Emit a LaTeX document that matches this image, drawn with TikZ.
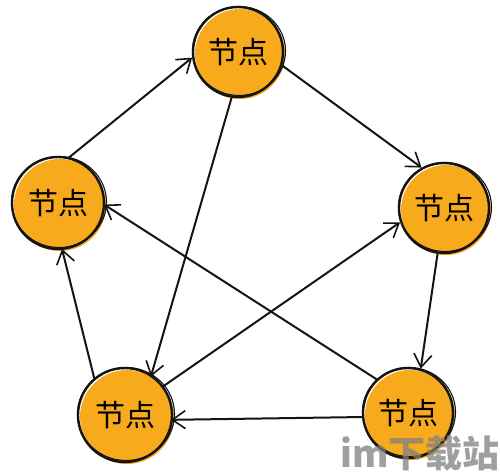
\documentclass[tikz,border=0pt]{standalone}
\usepackage{fontspec}
\newfontfamily\cjk{Noto Sans CJK SC}
\usetikzlibrary{arrows.meta}
\definecolor{orangec}{HTML}{F7AA1C}
\definecolor{inkc}{HTML}{141414}
\tikzset{
  nd/.style={circle, minimum size=92pt, inner sep=0pt, font=\cjk\fontsize{30}{30}\selectfont},
  arr/.style={draw=inkc, line width=2pt, -{Straight Barb[length=13pt,width=18pt,line width=1.6pt]}}
}
\begin{document}
\begin{tikzpicture}[x=1pt,y=-1pt]
\useasboundingbox (0,0) rectangle (500,471);
\fill[white] (0,0) rectangle (500,471);
% sketchy circles
\foreach \x/\y/\r in {238/52/45, 58/203/46, 444/208/45, 125/415/47, 408/413/45}{
  \fill[orangec] (\x+2,\y+2) circle (\r);
  \draw[inkc, line width=2.4pt] (\x,\y) circle (\r);
  \draw[inkc, line width=1.1pt] (\x+1,\y-1) ellipse ({\r+1.5} and {\r-0.5});
}
\node[nd] (t) at (238,52) {节点};
\node[nd] (l) at (58,203) {节点};
\node[nd] (r) at (444,208) {节点};
\node[nd] (bl) at (125,415) {节点};
\node[nd] (br) at (408,413) {节点};
% connectors
\draw[arr] (l.77) -- (t.187);
\draw[arr] (t.343) -- (r.119);
\draw[arr] (r.262) -- (br.74);
\draw[arr] (br.185) -- (bl.354);
\draw[arr] (bl.131) -- (l.275);
\draw[arr] (t.262) -- (bl.56);
\draw[arr] (bl.37) -- (r.198);
\draw[arr] (br.133) -- (l.358);
% watermark
\node[anchor=west, inner sep=0pt, text=gray, opacity=0.75, font=\cjk\bfseries\fontsize{37}{37}\selectfont] (wm) at (340,454) {im下载站};
\end{tikzpicture}
\end{document}
